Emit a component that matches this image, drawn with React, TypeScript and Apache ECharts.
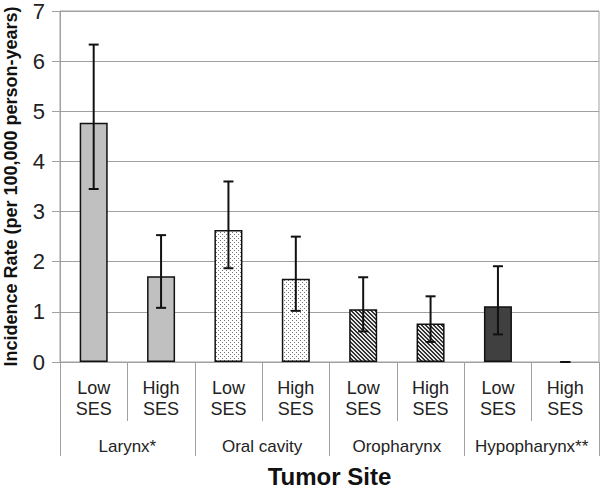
import React, { useEffect, useRef } from "react";
import * as echarts from "echarts";

const subCategories = ["Low\nSES", "High\nSES", "Low\nSES", "High\nSES", "Low\nSES", "High\nSES", "Low\nSES", "High\nSES"];
const tumorSites = ["Larynx*", "Oral cavity", "Oropharynx", "Hypopharynx**"];
const rates = [4.77, 1.71, 2.63, 1.66, 1.05, 0.77, 1.11, 0];
const ciLower = [3.45, 1.08, 1.87, 1.02, 0.61, 0.4, 0.55, 0];
const ciUpper = [6.33, 2.53, 3.6, 2.5, 1.69, 1.31, 1.91, 0];
const siteOfBar = [0, 0, 1, 1, 2, 2, 3, 3];
const yTicks = [0, 1, 2, 3, 4, 5, 6, 7];

function makeDots(): HTMLCanvasElement {
  const c = document.createElement("canvas");
  c.width = 4;
  c.height = 4;
  const ctx = c.getContext("2d")!;
  ctx.fillStyle = "#ffffff";
  ctx.fillRect(0, 0, 4, 4);
  ctx.fillStyle = "#777777";
  ctx.fillRect(0, 0, 1, 1);
  ctx.fillRect(2, 2, 1, 1);
  return c;
}

function makeHatch(): HTMLCanvasElement {
  const c = document.createElement("canvas");
  c.width = 4;
  c.height = 4;
  const ctx = c.getContext("2d")!;
  ctx.fillStyle = "#e8e8e8";
  ctx.fillRect(0, 0, 4, 4);
  ctx.fillStyle = "#333333";
  for (let i = 0; i < 4; i++) {
    ctx.fillRect(i, i, 1, 1);
    ctx.fillRect((i + 1) % 4, i, 1, 1);
  }
  return c;
}

export default function App() {
  const ref = useRef<HTMLDivElement>(null);
  useEffect(() => {
    if (!ref.current) return;
    const chart = echarts.init(ref.current, null, { renderer: "svg" });
    const dots = makeDots();
    const hatch = makeHatch();
    const siteFills: any[] = [
      "#c0c0c0",
      { image: dots, repeat: "repeat" },
      { image: hatch, repeat: "repeat" },
      "#404040",
    ];
    const font = "'Liberation Sans', Arial, sans-serif";
    chart.setOption({
      animation: false,
      grid: {
        left: 60,
        right: 2,
        top: 11,
        bottom: 129,
        show: true,
        borderColor: "#a0a0a0",
        borderWidth: 1,
        outerBoundsMode: "none",
        containLabel: false,
      },
      xAxis: [
        {
          type: "category",
          data: subCategories,
          position: "bottom",
          axisLine: { show: true, lineStyle: { color: "#a0a0a0", width: 1 } },
          axisTick: { show: true, length: 59, interval: 0, alignWithLabel: false, lineStyle: { color: "#a0a0a0" } },
          axisLabel: { interval: 0, fontSize: 18, lineHeight: 21, margin: 15, color: "#222", fontFamily: font },
        },
        {
          type: "category",
          data: tumorSites,
          position: "bottom",
          axisLine: { show: false },
          axisTick: { show: true, length: 94, interval: 0, alignWithLabel: false, lineStyle: { color: "#a0a0a0" } },
          axisLabel: { interval: 0, fontSize: 17, margin: 76, color: "#222", fontFamily: font },
          name: "Tumor Site",
          nameLocation: "middle",
          nameGap: 105,
          nameTextStyle: { fontSize: 24, lineHeight: 18, fontWeight: "bold", color: "#111", fontFamily: font },
        },
      ],
      yAxis: {
        type: "value",
        min: 0,
        max: 7,
        interval: 1,
        axisLine: { show: true, lineStyle: { color: "#a0a0a0" } },
        axisTick: { show: true, length: 8, lineStyle: { color: "#a0a0a0" } },
        axisLabel: {
          fontSize: 22,
          margin: 15,
          color: "#222",
          fontFamily: font,
          formatter: (v: number) => (yTicks.includes(v) ? String(v) : ""),
        },
        splitLine: { show: true, lineStyle: { color: "#a0a0a0", width: 1 } },
        name: "Incidence Rate (per 100,000 person-years)",
        nameLocation: "middle",
        nameGap: 40,
        nameTextStyle: { fontSize: 18, fontWeight: "bold", color: "#111", fontFamily: font },
      },
      series: [
        {
          type: "bar",
          xAxisIndex: 0,
          barWidth: 28,
          data: rates.map((v, i) => ({
            value: v,
            itemStyle: {
              color: siteFills[siteOfBar[i]],
              borderColor: "#111",
              borderWidth: v > 0 ? 1.5 : 0,
            },
          })),
        },
        {
          type: "custom",
          xAxisIndex: 0,
          data: rates.map((_, i) => [i, ciLower[i], ciUpper[i]]),
          renderItem: (params: any, api: any) => {
            const idx = api.value(0);
            const lo = api.coord([idx, api.value(1)]);
            const hi = api.coord([idx, api.value(2)]);
            const hw = 5;
            const style = { stroke: "#111", lineWidth: 2 };
            return {
              type: "group",
              children: [
                { type: "line", shape: { x1: hi[0], y1: hi[1], x2: lo[0], y2: lo[1] }, style },
                { type: "line", shape: { x1: hi[0] - hw, y1: hi[1], x2: hi[0] + hw, y2: hi[1] }, style },
                { type: "line", shape: { x1: lo[0] - hw, y1: lo[1], x2: lo[0] + hw, y2: lo[1] }, style },
              ],
            };
          },
          z: 5,
        },
      ],
    });
    return () => chart.dispose();
  }, []);
  return <div ref={ref} style={{ width: 601, height: 491, position: "absolute", left: 0, top: 0 }} />;
}
